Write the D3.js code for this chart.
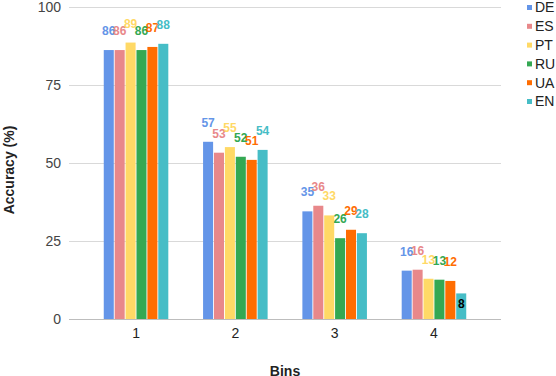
<!DOCTYPE html>
<html>
<head>
<meta charset="utf-8">
<script src="https://cdn.jsdelivr.net/npm/d3@7"></script>
<style>
  body { margin: 0; background: #fff; }
  svg { display: block; font-family: "Liberation Sans", Arial, sans-serif; }
</style>
</head>
<body>
<script>
var width = 556,
  height = 376;

// data
var bins = ["1", "2", "3", "4"];
var languages = ["DE", "ES", "PT", "RU", "UA", "EN"];
var colors = ["#6495e8", "#e8888a", "#ffd966", "#34a853", "#ff6d01", "#46bdc6"];
var valuesDE = [86.2, 56.8, 34.5, 15.5];
var valuesES = [86.2, 53.3, 36.3, 15.8];
var valuesPT = [88.6, 55.1, 33.2, 12.9];
var valuesRU = [86.2, 52.0, 25.9, 12.6];
var valuesUA = [87.2, 51.0, 28.6, 12.2];
var valuesEN = [88.2, 54.2, 27.5, 8.2];
var yTicks = [0, 25, 50, 75, 100];

var series = [valuesDE, valuesES, valuesPT, valuesRU, valuesUA, valuesEN];
var table = [];
bins.forEach(function(b, i) {
  languages.forEach(function(l, j) {
    table.push({bin: b, lang: l, value: series[j][i], color: colors[j]});
  });
});

var svg = d3.select("body").append("svg")
  .attr("width", width)
  .attr("height", height);

var x = d3.scaleBand()
  .domain(bins)
  .range([69, 501])
  .paddingInner(0.35)
  .paddingOuter(0.35);

var xInner = d3.scaleBand()
  .domain(languages)
  .range([0, x.bandwidth()])
  .paddingInner(0.08);

var y = d3.scaleLinear()
  .domain([0, 100])
  .range([319, 7]);

// gridlines
svg.append("g")
  .selectAll("line")
  .data(yTicks)
  .enter()
    .append("line")
    .attr("x1", 69)
    .attr("x2", 501)
    .attr("y1", function(d) { return y(d) + 0.5; })
    .attr("y2", function(d) { return y(d) + 0.5; })
    .attr("stroke", function(d) { return d == 0 ? "#bdbdbd" : "#d9d9d9"; })
    .attr("stroke-width", 1);

// y tick labels
svg.append("g")
  .selectAll("text")
  .data(yTicks)
  .enter()
    .append("text")
    .attr("x", 61)
    .attr("y", function(d) { return y(d); })
    .attr("dy", "0.35em")
    .attr("text-anchor", "end")
    .attr("font-size", 14)
    .attr("fill", "#444")
    .text(function(d) { return d; });

// x tick labels
svg.append("g")
  .selectAll("text")
  .data(bins)
  .enter()
    .append("text")
    .attr("x", function(d) { return x(d) + x.bandwidth() / 2; })
    .attr("y", 338)
    .attr("text-anchor", "middle")
    .attr("font-size", 14)
    .attr("fill", "#222")
    .text(function(d) { return d; });

// bars
svg.append("g")
  .selectAll("rect")
  .data(table)
  .enter()
    .append("rect")
    .attr("x", function(d) { return x(d.bin) + xInner(d.lang); })
    .attr("y", function(d) { return y(d.value); })
    .attr("width", xInner.bandwidth())
    .attr("height", function(d) { return y(0) - y(d.value); })
    .attr("fill", function(d) { return d.color; });

// value labels
svg.append("g")
  .selectAll("text")
  .data(table)
  .enter()
    .append("text")
    .attr("x", function(d) { return x(d.bin) + xInner(d.lang) + xInner.bandwidth() / 2; })
    .attr("y", function(d) {
      return d.value < 10 ? y(d.value) + 15 : y(d.value) - 15;
    })
    .attr("text-anchor", "middle")
    .attr("font-size", 12)
    .attr("font-weight", "bold")
    .attr("fill", function(d) { return d.value < 10 ? "#000" : d.color; })
    .text(function(d) { return Math.round(d.value); });

// axis titles
svg.append("text")
  .attr("transform", "translate(14,170) rotate(-90)")
  .attr("text-anchor", "middle")
  .attr("font-size", 14)
  .attr("font-weight", "bold")
  .attr("fill", "#222")
  .text("Accuracy (%)");

svg.append("text")
  .attr("x", 285)
  .attr("y", 376)
  .attr("text-anchor", "middle")
  .attr("font-size", 14)
  .attr("font-weight", "bold")
  .attr("fill", "#222")
  .text("Bins");

// legend
var legend = svg.append("g")
  .selectAll("g")
  .data(languages)
  .enter()
    .append("g")
    .attr("transform", function(d, i) { return "translate(527," + (7.5 + i * 18.8) + ")"; });

legend.append("rect")
  .attr("x", 0)
  .attr("y", -2.5)
  .attr("width", 5)
  .attr("height", 5)
  .attr("fill", function(d, i) { return colors[i]; });

legend.append("text")
  .attr("x", 8)
  .attr("y", 0)
  .attr("dy", "0.35em")
  .attr("font-size", 14)
  .attr("fill", "#222")
  .text(function(d) { return d; });
</script>
</body>
</html>
